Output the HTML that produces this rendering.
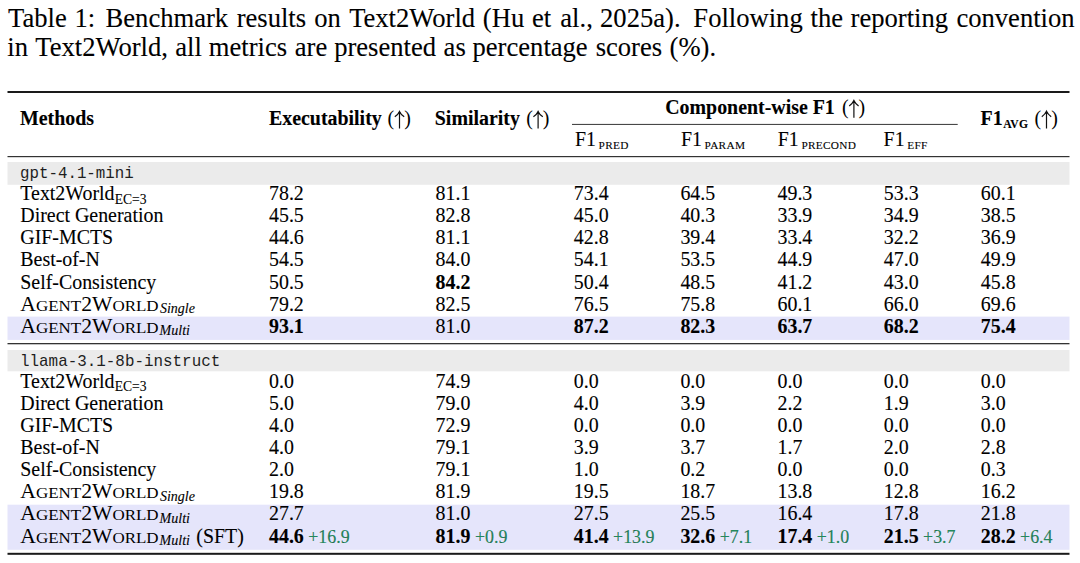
<!DOCTYPE html>
<html><head><meta charset="utf-8"><title>Table 1</title>
<style>html,body{margin:0;padding:0;background:#fff;width:1080px;height:563px;overflow:hidden} svg{font-family:"Liberation Serif", serif} text{white-space:pre}</style>
</head><body>
<svg width="1080" height="563" viewBox="0 0 1080 563" style="display:block"><text x="8.03" y="26.70" font-family="Liberation Serif" font-size="26.6" font-weight="normal" font-style="normal" fill="#000" stroke="#000" stroke-width="0.1" >Table</text>
<text x="74.57" y="26.70" font-family="Liberation Serif" font-size="26.6" font-weight="normal" font-style="normal" fill="#000" stroke="#000" stroke-width="0.1" >1:</text>
<text x="105.57" y="26.70" font-family="Liberation Serif" font-size="26.6" font-weight="normal" font-style="normal" fill="#000" stroke="#000" stroke-width="0.1" >Benchmark</text>
<text x="236.67" y="26.70" font-family="Liberation Serif" font-size="26.6" font-weight="normal" font-style="normal" fill="#000" stroke="#000" stroke-width="0.1" >results</text>
<text x="314.20" y="26.70" font-family="Liberation Serif" font-size="26.6" font-weight="normal" font-style="normal" fill="#000" stroke="#000" stroke-width="0.1" >on</text>
<text x="349.13" y="26.70" font-family="Liberation Serif" font-size="26.6" font-weight="normal" font-style="normal" fill="#000" stroke="#000" stroke-width="0.1" >Text2World</text>
<text x="482.84" y="26.70" font-family="Liberation Serif" font-size="26.6" font-weight="normal" font-style="normal" fill="#000" stroke="#000" stroke-width="0.1" >(Hu</text>
<text x="532.00" y="26.70" font-family="Liberation Serif" font-size="26.6" font-weight="normal" font-style="normal" fill="#000" stroke="#000" stroke-width="0.1" >et</text>
<text x="560.30" y="26.70" font-family="Liberation Serif" font-size="26.6" font-weight="normal" font-style="normal" fill="#000" stroke="#000" stroke-width="0.1" >al.,</text>
<text x="600.04" y="26.70" font-family="Liberation Serif" font-size="26.6" font-weight="normal" font-style="normal" fill="#000" stroke="#000" stroke-width="0.1" >2025a).</text>
<text x="693.37" y="26.70" font-family="Liberation Serif" font-size="26.6" font-weight="normal" font-style="normal" fill="#000" stroke="#000" stroke-width="0.1" >Following</text>
<text x="810.60" y="26.70" font-family="Liberation Serif" font-size="26.6" font-weight="normal" font-style="normal" fill="#000" stroke="#000" stroke-width="0.1" >the</text>
<text x="850.57" y="26.70" font-family="Liberation Serif" font-size="26.6" font-weight="normal" font-style="normal" fill="#000" stroke="#000" stroke-width="0.1" >reporting</text>
<text x="956.40" y="26.70" font-family="Liberation Serif" font-size="26.6" font-weight="normal" font-style="normal" fill="#000" stroke="#000" stroke-width="0.1" >convention</text>
<text x="7.27" y="56.20" font-family="Liberation Serif" font-size="26.6" font-weight="normal" font-style="normal" fill="#000" stroke="#000" stroke-width="0.1" >in</text>
<text x="35.33" y="56.20" font-family="Liberation Serif" font-size="26.6" font-weight="normal" font-style="normal" fill="#000" stroke="#000" stroke-width="0.1" >Text2World,</text>
<text x="175.30" y="56.20" font-family="Liberation Serif" font-size="26.6" font-weight="normal" font-style="normal" fill="#000" stroke="#000" stroke-width="0.1" >all</text>
<text x="208.87" y="56.20" font-family="Liberation Serif" font-size="26.6" font-weight="normal" font-style="normal" fill="#000" stroke="#000" stroke-width="0.1" >metrics</text>
<text x="294.80" y="56.20" font-family="Liberation Serif" font-size="26.6" font-weight="normal" font-style="normal" fill="#000" stroke="#000" stroke-width="0.1" >are</text>
<text x="334.13" y="56.20" font-family="Liberation Serif" font-size="26.6" font-weight="normal" font-style="normal" fill="#000" stroke="#000" stroke-width="0.1" >presented</text>
<text x="443.60" y="56.20" font-family="Liberation Serif" font-size="26.6" font-weight="normal" font-style="normal" fill="#000" stroke="#000" stroke-width="0.1" >as</text>
<text x="472.53" y="56.20" font-family="Liberation Serif" font-size="26.6" font-weight="normal" font-style="normal" fill="#000" stroke="#000" stroke-width="0.1" >percentage</text>
<text x="595.64" y="56.20" font-family="Liberation Serif" font-size="26.6" font-weight="normal" font-style="normal" fill="#000" stroke="#000" stroke-width="0.1" >scores</text>
<text x="669.54" y="56.20" font-family="Liberation Serif" font-size="26.6" font-weight="normal" font-style="normal" fill="#000" stroke="#000" stroke-width="0.1" >(%).</text>
<rect x="7.50" y="91.00" width="1062.00" height="2.00" fill="#1a1a1a"/>
<rect x="572.00" y="123.90" width="385.70" height="1.10" fill="#484848"/>
<rect x="7.50" y="156.00" width="1062.00" height="1.20" fill="#333"/>
<text x="20.00" y="125.10" font-family="Liberation Serif" font-size="19.9" font-weight="bold" font-style="normal" fill="#000" stroke="#000" stroke-width="0.1" >Methods</text>
<text x="269.00" y="125.00" font-family="Liberation Serif" font-size="19.9" font-weight="bold" font-style="normal" fill="#000" stroke="#000" stroke-width="0.1" >Executability</text>
<text x="387.60" y="125.00" font-family="Liberation Serif" font-size="19.9">(</text><path d="M399.50 112.40 L399.50 128.60 M394.80 116.80 Q398.20 114.40 399.50 111.40 Q400.80 114.40 404.20 116.80" stroke="#111" stroke-width="1.2" fill="none"/><path d="M398.10 113.80 L399.50 111.20 L400.90 113.80 Z" fill="#111"/><text x="404.20" y="125.00" font-family="Liberation Serif" font-size="19.9">)</text>
<text x="434.80" y="125.00" font-family="Liberation Serif" font-size="19.9" font-weight="bold" font-style="normal" fill="#000" stroke="#000" stroke-width="0.1" >Similarity</text>
<text x="526.20" y="125.00" font-family="Liberation Serif" font-size="19.9">(</text><path d="M538.10 112.40 L538.10 128.60 M533.40 116.80 Q536.80 114.40 538.10 111.40 Q539.40 114.40 542.80 116.80" stroke="#111" stroke-width="1.2" fill="none"/><path d="M536.70 113.80 L538.10 111.20 L539.50 113.80 Z" fill="#111"/><text x="542.80" y="125.00" font-family="Liberation Serif" font-size="19.9">)</text>
<text x="665.20" y="114.10" font-family="Liberation Serif" font-size="19.9" font-weight="bold" font-style="normal" fill="#000" stroke="#000" stroke-width="0.1" >Component-wise F1</text>
<text x="842.00" y="114.10" font-family="Liberation Serif" font-size="19.9">(</text><path d="M853.90 101.50 L853.90 117.70 M849.20 105.90 Q852.60 103.50 853.90 100.50 Q855.20 103.50 858.60 105.90" stroke="#111" stroke-width="1.2" fill="none"/><path d="M852.50 102.90 L853.90 100.30 L855.30 102.90 Z" fill="#111"/><text x="858.60" y="114.10" font-family="Liberation Serif" font-size="19.9">)</text>
<text x="575.00" y="145.80" font-family="Liberation Serif" font-size="19.9" font-weight="normal" font-style="normal" fill="#000" stroke="#000" stroke-width="0.1" >F1<tspan font-size="11.3" dy="2.8" dx="2.6" letter-spacing="0.3">PRED</tspan></text>
<text x="681.00" y="145.80" font-family="Liberation Serif" font-size="19.9" font-weight="normal" font-style="normal" fill="#000" stroke="#000" stroke-width="0.1" >F1<tspan font-size="11.3" dy="2.8" dx="2.6" letter-spacing="0.3">PARAM</tspan></text>
<text x="777.80" y="145.80" font-family="Liberation Serif" font-size="19.9" font-weight="normal" font-style="normal" fill="#000" stroke="#000" stroke-width="0.1" >F1<tspan font-size="11.3" dy="2.8" dx="2.6" letter-spacing="0.3">PRECOND</tspan></text>
<text x="883.60" y="145.80" font-family="Liberation Serif" font-size="19.9" font-weight="normal" font-style="normal" fill="#000" stroke="#000" stroke-width="0.1" >F1<tspan font-size="11.3" dy="2.8" dx="2.6" letter-spacing="0.3">EFF</tspan></text>
<text x="980.60" y="124.90" font-family="Liberation Serif" font-size="19.9" font-weight="bold" font-style="normal" fill="#000" stroke="#000" stroke-width="0.1" >F1<tspan font-size="11.6" dy="3.4" dx="0.6" letter-spacing="0.2">AVG</tspan></text>
<text x="1034.60" y="124.90" font-family="Liberation Serif" font-size="19.9">(</text><path d="M1046.50 112.30 L1046.50 128.50 M1041.80 116.70 Q1045.20 114.30 1046.50 111.30 Q1047.80 114.30 1051.20 116.70" stroke="#111" stroke-width="1.2" fill="none"/><path d="M1045.10 113.70 L1046.50 111.10 L1047.90 113.70 Z" fill="#111"/><text x="1051.20" y="124.90" font-family="Liberation Serif" font-size="19.9">)</text>
<rect x="7.50" y="162.00" width="1062.00" height="22.80" fill="#ebebeb"/>
<rect x="7.50" y="316.60" width="1062.00" height="23.30" fill="#e5e5fb"/>
<rect x="7.50" y="343.00" width="1062.00" height="1.30" fill="#333"/>
<rect x="7.50" y="350.00" width="1062.00" height="21.30" fill="#ebebeb"/>
<rect x="7.50" y="504.70" width="1062.00" height="45.10" fill="#e5e5fb"/>
<rect x="7.50" y="552.80" width="1062.00" height="2.00" fill="#1a1a1a"/>
<text x="20.00" y="177.60" font-family="Liberation Mono" font-size="15.8" font-weight="normal" font-style="normal" fill="#1e1e1e" stroke="#1e1e1e" stroke-width="0" >gpt-4.1-mini</text>
<text x="20.30" y="200.40" font-family="Liberation Serif" font-size="19.9" font-weight="normal" font-style="normal" fill="#000" stroke="#000" stroke-width="0.1" >Text2World<tspan font-size="13.6" dy="3.5" dx="0.2" >EC=3</tspan></text>
<text x="269.00" y="200.40" font-family="Liberation Serif" font-size="19.9" font-weight="normal" font-style="normal" fill="#000" stroke="#000" stroke-width="0.1" >78.2</text>
<text x="435.60" y="200.40" font-family="Liberation Serif" font-size="19.9" font-weight="normal" font-style="normal" fill="#000" stroke="#000" stroke-width="0.1" >81.1</text>
<text x="573.80" y="200.40" font-family="Liberation Serif" font-size="19.9" font-weight="normal" font-style="normal" fill="#000" stroke="#000" stroke-width="0.1" >73.4</text>
<text x="680.40" y="200.40" font-family="Liberation Serif" font-size="19.9" font-weight="normal" font-style="normal" fill="#000" stroke="#000" stroke-width="0.1" >64.5</text>
<text x="777.50" y="200.40" font-family="Liberation Serif" font-size="19.9" font-weight="normal" font-style="normal" fill="#000" stroke="#000" stroke-width="0.1" >49.3</text>
<text x="883.80" y="200.40" font-family="Liberation Serif" font-size="19.9" font-weight="normal" font-style="normal" fill="#000" stroke="#000" stroke-width="0.1" >53.3</text>
<text x="980.80" y="200.40" font-family="Liberation Serif" font-size="19.9" font-weight="normal" font-style="normal" fill="#000" stroke="#000" stroke-width="0.1" >60.1</text>
<text x="20.30" y="222.43" font-family="Liberation Serif" font-size="19.9" font-weight="normal" font-style="normal" fill="#000" stroke="#000" stroke-width="0.1" >Direct Generation</text>
<text x="269.00" y="222.43" font-family="Liberation Serif" font-size="19.9" font-weight="normal" font-style="normal" fill="#000" stroke="#000" stroke-width="0.1" >45.5</text>
<text x="435.60" y="222.43" font-family="Liberation Serif" font-size="19.9" font-weight="normal" font-style="normal" fill="#000" stroke="#000" stroke-width="0.1" >82.8</text>
<text x="573.80" y="222.43" font-family="Liberation Serif" font-size="19.9" font-weight="normal" font-style="normal" fill="#000" stroke="#000" stroke-width="0.1" >45.0</text>
<text x="680.40" y="222.43" font-family="Liberation Serif" font-size="19.9" font-weight="normal" font-style="normal" fill="#000" stroke="#000" stroke-width="0.1" >40.3</text>
<text x="777.50" y="222.43" font-family="Liberation Serif" font-size="19.9" font-weight="normal" font-style="normal" fill="#000" stroke="#000" stroke-width="0.1" >33.9</text>
<text x="883.80" y="222.43" font-family="Liberation Serif" font-size="19.9" font-weight="normal" font-style="normal" fill="#000" stroke="#000" stroke-width="0.1" >34.9</text>
<text x="980.80" y="222.43" font-family="Liberation Serif" font-size="19.9" font-weight="normal" font-style="normal" fill="#000" stroke="#000" stroke-width="0.1" >38.5</text>
<text x="20.30" y="244.46" font-family="Liberation Serif" font-size="19.9" font-weight="normal" font-style="normal" fill="#000" stroke="#000" stroke-width="0.1" >GIF-MCTS</text>
<text x="269.00" y="244.46" font-family="Liberation Serif" font-size="19.9" font-weight="normal" font-style="normal" fill="#000" stroke="#000" stroke-width="0.1" >44.6</text>
<text x="435.60" y="244.46" font-family="Liberation Serif" font-size="19.9" font-weight="normal" font-style="normal" fill="#000" stroke="#000" stroke-width="0.1" >81.1</text>
<text x="573.80" y="244.46" font-family="Liberation Serif" font-size="19.9" font-weight="normal" font-style="normal" fill="#000" stroke="#000" stroke-width="0.1" >42.8</text>
<text x="680.40" y="244.46" font-family="Liberation Serif" font-size="19.9" font-weight="normal" font-style="normal" fill="#000" stroke="#000" stroke-width="0.1" >39.4</text>
<text x="777.50" y="244.46" font-family="Liberation Serif" font-size="19.9" font-weight="normal" font-style="normal" fill="#000" stroke="#000" stroke-width="0.1" >33.4</text>
<text x="883.80" y="244.46" font-family="Liberation Serif" font-size="19.9" font-weight="normal" font-style="normal" fill="#000" stroke="#000" stroke-width="0.1" >32.2</text>
<text x="980.80" y="244.46" font-family="Liberation Serif" font-size="19.9" font-weight="normal" font-style="normal" fill="#000" stroke="#000" stroke-width="0.1" >36.9</text>
<text x="20.30" y="266.49" font-family="Liberation Serif" font-size="19.9" font-weight="normal" font-style="normal" fill="#000" stroke="#000" stroke-width="0.1" >Best-of-N</text>
<text x="269.00" y="266.49" font-family="Liberation Serif" font-size="19.9" font-weight="normal" font-style="normal" fill="#000" stroke="#000" stroke-width="0.1" >54.5</text>
<text x="435.60" y="266.49" font-family="Liberation Serif" font-size="19.9" font-weight="normal" font-style="normal" fill="#000" stroke="#000" stroke-width="0.1" >84.0</text>
<text x="573.80" y="266.49" font-family="Liberation Serif" font-size="19.9" font-weight="normal" font-style="normal" fill="#000" stroke="#000" stroke-width="0.1" >54.1</text>
<text x="680.40" y="266.49" font-family="Liberation Serif" font-size="19.9" font-weight="normal" font-style="normal" fill="#000" stroke="#000" stroke-width="0.1" >53.5</text>
<text x="777.50" y="266.49" font-family="Liberation Serif" font-size="19.9" font-weight="normal" font-style="normal" fill="#000" stroke="#000" stroke-width="0.1" >44.9</text>
<text x="883.80" y="266.49" font-family="Liberation Serif" font-size="19.9" font-weight="normal" font-style="normal" fill="#000" stroke="#000" stroke-width="0.1" >47.0</text>
<text x="980.80" y="266.49" font-family="Liberation Serif" font-size="19.9" font-weight="normal" font-style="normal" fill="#000" stroke="#000" stroke-width="0.1" >49.9</text>
<text x="20.30" y="288.52" font-family="Liberation Serif" font-size="19.9" font-weight="normal" font-style="normal" fill="#000" stroke="#000" stroke-width="0.1" >Self-Consistency</text>
<text x="269.00" y="288.52" font-family="Liberation Serif" font-size="19.9" font-weight="normal" font-style="normal" fill="#000" stroke="#000" stroke-width="0.1" >50.5</text>
<text x="435.60" y="288.52" font-family="Liberation Serif" font-size="19.9" font-weight="bold" font-style="normal" fill="#000" stroke="#000" stroke-width="0.1" >84.2</text>
<text x="573.80" y="288.52" font-family="Liberation Serif" font-size="19.9" font-weight="normal" font-style="normal" fill="#000" stroke="#000" stroke-width="0.1" >50.4</text>
<text x="680.40" y="288.52" font-family="Liberation Serif" font-size="19.9" font-weight="normal" font-style="normal" fill="#000" stroke="#000" stroke-width="0.1" >48.5</text>
<text x="777.50" y="288.52" font-family="Liberation Serif" font-size="19.9" font-weight="normal" font-style="normal" fill="#000" stroke="#000" stroke-width="0.1" >41.2</text>
<text x="883.80" y="288.52" font-family="Liberation Serif" font-size="19.9" font-weight="normal" font-style="normal" fill="#000" stroke="#000" stroke-width="0.1" >43.0</text>
<text x="980.80" y="288.52" font-family="Liberation Serif" font-size="19.9" font-weight="normal" font-style="normal" fill="#000" stroke="#000" stroke-width="0.1" >45.8</text>
<text x="20.3" y="310.55" font-family="Liberation Serif" font-size="19.9" textLength="138.3" lengthAdjust="spacingAndGlyphs">A<tspan font-size="15.6" >GENT</tspan><tspan  >2W</tspan><tspan font-size="15.6" >ORLD</tspan></text>
<text x="159.90" y="313.45" font-family="Liberation Serif" font-size="14.0" font-weight="normal" font-style="italic" fill="#000" stroke="#000" stroke-width="0.1" >Single</text>
<text x="269.00" y="310.55" font-family="Liberation Serif" font-size="19.9" font-weight="normal" font-style="normal" fill="#000" stroke="#000" stroke-width="0.1" >79.2</text>
<text x="435.60" y="310.55" font-family="Liberation Serif" font-size="19.9" font-weight="normal" font-style="normal" fill="#000" stroke="#000" stroke-width="0.1" >82.5</text>
<text x="573.80" y="310.55" font-family="Liberation Serif" font-size="19.9" font-weight="normal" font-style="normal" fill="#000" stroke="#000" stroke-width="0.1" >76.5</text>
<text x="680.40" y="310.55" font-family="Liberation Serif" font-size="19.9" font-weight="normal" font-style="normal" fill="#000" stroke="#000" stroke-width="0.1" >75.8</text>
<text x="777.50" y="310.55" font-family="Liberation Serif" font-size="19.9" font-weight="normal" font-style="normal" fill="#000" stroke="#000" stroke-width="0.1" >60.1</text>
<text x="883.80" y="310.55" font-family="Liberation Serif" font-size="19.9" font-weight="normal" font-style="normal" fill="#000" stroke="#000" stroke-width="0.1" >66.0</text>
<text x="980.80" y="310.55" font-family="Liberation Serif" font-size="19.9" font-weight="normal" font-style="normal" fill="#000" stroke="#000" stroke-width="0.1" >69.6</text>
<text x="20.3" y="332.58" font-family="Liberation Serif" font-size="19.9" textLength="138.3" lengthAdjust="spacingAndGlyphs">A<tspan font-size="15.6" >GENT</tspan><tspan  >2W</tspan><tspan font-size="15.6" >ORLD</tspan></text>
<text x="159.60" y="335.48" font-family="Liberation Serif" font-size="14.0" font-weight="normal" font-style="italic" fill="#000" stroke="#000" stroke-width="0.1" >Multi</text>
<text x="269.00" y="332.58" font-family="Liberation Serif" font-size="19.9" font-weight="bold" font-style="normal" fill="#000" stroke="#000" stroke-width="0.1" >93.1</text>
<text x="435.60" y="332.58" font-family="Liberation Serif" font-size="19.9" font-weight="normal" font-style="normal" fill="#000" stroke="#000" stroke-width="0.1" >81.0</text>
<text x="573.80" y="332.58" font-family="Liberation Serif" font-size="19.9" font-weight="bold" font-style="normal" fill="#000" stroke="#000" stroke-width="0.1" >87.2</text>
<text x="680.40" y="332.58" font-family="Liberation Serif" font-size="19.9" font-weight="bold" font-style="normal" fill="#000" stroke="#000" stroke-width="0.1" >82.3</text>
<text x="777.50" y="332.58" font-family="Liberation Serif" font-size="19.9" font-weight="bold" font-style="normal" fill="#000" stroke="#000" stroke-width="0.1" >63.7</text>
<text x="883.80" y="332.58" font-family="Liberation Serif" font-size="19.9" font-weight="bold" font-style="normal" fill="#000" stroke="#000" stroke-width="0.1" >68.2</text>
<text x="980.80" y="332.58" font-family="Liberation Serif" font-size="19.9" font-weight="bold" font-style="normal" fill="#000" stroke="#000" stroke-width="0.1" >75.4</text>
<text x="20.00" y="365.50" font-family="Liberation Mono" font-size="15.9" font-weight="normal" font-style="normal" fill="#1e1e1e" stroke="#1e1e1e" stroke-width="0" >llama-3.1-8b-instruct</text>
<text x="20.30" y="387.95" font-family="Liberation Serif" font-size="19.9" font-weight="normal" font-style="normal" fill="#000" stroke="#000" stroke-width="0.1" >Text2World<tspan font-size="13.6" dy="3.5" dx="0.2" >EC=3</tspan></text>
<text x="269.00" y="387.95" font-family="Liberation Serif" font-size="19.9" font-weight="normal" font-style="normal" fill="#000" stroke="#000" stroke-width="0.1" >0.0</text>
<text x="435.60" y="387.95" font-family="Liberation Serif" font-size="19.9" font-weight="normal" font-style="normal" fill="#000" stroke="#000" stroke-width="0.1" >74.9</text>
<text x="573.80" y="387.95" font-family="Liberation Serif" font-size="19.9" font-weight="normal" font-style="normal" fill="#000" stroke="#000" stroke-width="0.1" >0.0</text>
<text x="680.40" y="387.95" font-family="Liberation Serif" font-size="19.9" font-weight="normal" font-style="normal" fill="#000" stroke="#000" stroke-width="0.1" >0.0</text>
<text x="777.50" y="387.95" font-family="Liberation Serif" font-size="19.9" font-weight="normal" font-style="normal" fill="#000" stroke="#000" stroke-width="0.1" >0.0</text>
<text x="883.80" y="387.95" font-family="Liberation Serif" font-size="19.9" font-weight="normal" font-style="normal" fill="#000" stroke="#000" stroke-width="0.1" >0.0</text>
<text x="980.80" y="387.95" font-family="Liberation Serif" font-size="19.9" font-weight="normal" font-style="normal" fill="#000" stroke="#000" stroke-width="0.1" >0.0</text>
<text x="20.30" y="410.03" font-family="Liberation Serif" font-size="19.9" font-weight="normal" font-style="normal" fill="#000" stroke="#000" stroke-width="0.1" >Direct Generation</text>
<text x="269.00" y="410.03" font-family="Liberation Serif" font-size="19.9" font-weight="normal" font-style="normal" fill="#000" stroke="#000" stroke-width="0.1" >5.0</text>
<text x="435.60" y="410.03" font-family="Liberation Serif" font-size="19.9" font-weight="normal" font-style="normal" fill="#000" stroke="#000" stroke-width="0.1" >79.0</text>
<text x="573.80" y="410.03" font-family="Liberation Serif" font-size="19.9" font-weight="normal" font-style="normal" fill="#000" stroke="#000" stroke-width="0.1" >4.0</text>
<text x="680.40" y="410.03" font-family="Liberation Serif" font-size="19.9" font-weight="normal" font-style="normal" fill="#000" stroke="#000" stroke-width="0.1" >3.9</text>
<text x="777.50" y="410.03" font-family="Liberation Serif" font-size="19.9" font-weight="normal" font-style="normal" fill="#000" stroke="#000" stroke-width="0.1" >2.2</text>
<text x="883.80" y="410.03" font-family="Liberation Serif" font-size="19.9" font-weight="normal" font-style="normal" fill="#000" stroke="#000" stroke-width="0.1" >1.9</text>
<text x="980.80" y="410.03" font-family="Liberation Serif" font-size="19.9" font-weight="normal" font-style="normal" fill="#000" stroke="#000" stroke-width="0.1" >3.0</text>
<text x="20.30" y="432.11" font-family="Liberation Serif" font-size="19.9" font-weight="normal" font-style="normal" fill="#000" stroke="#000" stroke-width="0.1" >GIF-MCTS</text>
<text x="269.00" y="432.11" font-family="Liberation Serif" font-size="19.9" font-weight="normal" font-style="normal" fill="#000" stroke="#000" stroke-width="0.1" >4.0</text>
<text x="435.60" y="432.11" font-family="Liberation Serif" font-size="19.9" font-weight="normal" font-style="normal" fill="#000" stroke="#000" stroke-width="0.1" >72.9</text>
<text x="573.80" y="432.11" font-family="Liberation Serif" font-size="19.9" font-weight="normal" font-style="normal" fill="#000" stroke="#000" stroke-width="0.1" >0.0</text>
<text x="680.40" y="432.11" font-family="Liberation Serif" font-size="19.9" font-weight="normal" font-style="normal" fill="#000" stroke="#000" stroke-width="0.1" >0.0</text>
<text x="777.50" y="432.11" font-family="Liberation Serif" font-size="19.9" font-weight="normal" font-style="normal" fill="#000" stroke="#000" stroke-width="0.1" >0.0</text>
<text x="883.80" y="432.11" font-family="Liberation Serif" font-size="19.9" font-weight="normal" font-style="normal" fill="#000" stroke="#000" stroke-width="0.1" >0.0</text>
<text x="980.80" y="432.11" font-family="Liberation Serif" font-size="19.9" font-weight="normal" font-style="normal" fill="#000" stroke="#000" stroke-width="0.1" >0.0</text>
<text x="20.30" y="454.19" font-family="Liberation Serif" font-size="19.9" font-weight="normal" font-style="normal" fill="#000" stroke="#000" stroke-width="0.1" >Best-of-N</text>
<text x="269.00" y="454.19" font-family="Liberation Serif" font-size="19.9" font-weight="normal" font-style="normal" fill="#000" stroke="#000" stroke-width="0.1" >4.0</text>
<text x="435.60" y="454.19" font-family="Liberation Serif" font-size="19.9" font-weight="normal" font-style="normal" fill="#000" stroke="#000" stroke-width="0.1" >79.1</text>
<text x="573.80" y="454.19" font-family="Liberation Serif" font-size="19.9" font-weight="normal" font-style="normal" fill="#000" stroke="#000" stroke-width="0.1" >3.9</text>
<text x="680.40" y="454.19" font-family="Liberation Serif" font-size="19.9" font-weight="normal" font-style="normal" fill="#000" stroke="#000" stroke-width="0.1" >3.7</text>
<text x="777.50" y="454.19" font-family="Liberation Serif" font-size="19.9" font-weight="normal" font-style="normal" fill="#000" stroke="#000" stroke-width="0.1" >1.7</text>
<text x="883.80" y="454.19" font-family="Liberation Serif" font-size="19.9" font-weight="normal" font-style="normal" fill="#000" stroke="#000" stroke-width="0.1" >2.0</text>
<text x="980.80" y="454.19" font-family="Liberation Serif" font-size="19.9" font-weight="normal" font-style="normal" fill="#000" stroke="#000" stroke-width="0.1" >2.8</text>
<text x="20.30" y="476.27" font-family="Liberation Serif" font-size="19.9" font-weight="normal" font-style="normal" fill="#000" stroke="#000" stroke-width="0.1" >Self-Consistency</text>
<text x="269.00" y="476.27" font-family="Liberation Serif" font-size="19.9" font-weight="normal" font-style="normal" fill="#000" stroke="#000" stroke-width="0.1" >2.0</text>
<text x="435.60" y="476.27" font-family="Liberation Serif" font-size="19.9" font-weight="normal" font-style="normal" fill="#000" stroke="#000" stroke-width="0.1" >79.1</text>
<text x="573.80" y="476.27" font-family="Liberation Serif" font-size="19.9" font-weight="normal" font-style="normal" fill="#000" stroke="#000" stroke-width="0.1" >1.0</text>
<text x="680.40" y="476.27" font-family="Liberation Serif" font-size="19.9" font-weight="normal" font-style="normal" fill="#000" stroke="#000" stroke-width="0.1" >0.2</text>
<text x="777.50" y="476.27" font-family="Liberation Serif" font-size="19.9" font-weight="normal" font-style="normal" fill="#000" stroke="#000" stroke-width="0.1" >0.0</text>
<text x="883.80" y="476.27" font-family="Liberation Serif" font-size="19.9" font-weight="normal" font-style="normal" fill="#000" stroke="#000" stroke-width="0.1" >0.0</text>
<text x="980.80" y="476.27" font-family="Liberation Serif" font-size="19.9" font-weight="normal" font-style="normal" fill="#000" stroke="#000" stroke-width="0.1" >0.3</text>
<text x="20.3" y="498.35" font-family="Liberation Serif" font-size="19.9" textLength="138.3" lengthAdjust="spacingAndGlyphs">A<tspan font-size="15.6" >GENT</tspan><tspan  >2W</tspan><tspan font-size="15.6" >ORLD</tspan></text>
<text x="159.90" y="501.25" font-family="Liberation Serif" font-size="14.0" font-weight="normal" font-style="italic" fill="#000" stroke="#000" stroke-width="0.1" >Single</text>
<text x="269.00" y="498.35" font-family="Liberation Serif" font-size="19.9" font-weight="normal" font-style="normal" fill="#000" stroke="#000" stroke-width="0.1" >19.8</text>
<text x="435.60" y="498.35" font-family="Liberation Serif" font-size="19.9" font-weight="normal" font-style="normal" fill="#000" stroke="#000" stroke-width="0.1" >81.9</text>
<text x="573.80" y="498.35" font-family="Liberation Serif" font-size="19.9" font-weight="normal" font-style="normal" fill="#000" stroke="#000" stroke-width="0.1" >19.5</text>
<text x="680.40" y="498.35" font-family="Liberation Serif" font-size="19.9" font-weight="normal" font-style="normal" fill="#000" stroke="#000" stroke-width="0.1" >18.7</text>
<text x="777.50" y="498.35" font-family="Liberation Serif" font-size="19.9" font-weight="normal" font-style="normal" fill="#000" stroke="#000" stroke-width="0.1" >13.8</text>
<text x="883.80" y="498.35" font-family="Liberation Serif" font-size="19.9" font-weight="normal" font-style="normal" fill="#000" stroke="#000" stroke-width="0.1" >12.8</text>
<text x="980.80" y="498.35" font-family="Liberation Serif" font-size="19.9" font-weight="normal" font-style="normal" fill="#000" stroke="#000" stroke-width="0.1" >16.2</text>
<text x="20.3" y="520.43" font-family="Liberation Serif" font-size="19.9" textLength="138.3" lengthAdjust="spacingAndGlyphs">A<tspan font-size="15.6" >GENT</tspan><tspan  >2W</tspan><tspan font-size="15.6" >ORLD</tspan></text>
<text x="159.60" y="523.33" font-family="Liberation Serif" font-size="14.0" font-weight="normal" font-style="italic" fill="#000" stroke="#000" stroke-width="0.1" >Multi</text>
<text x="269.00" y="520.43" font-family="Liberation Serif" font-size="19.9" font-weight="normal" font-style="normal" fill="#000" stroke="#000" stroke-width="0.1" >27.7</text>
<text x="435.60" y="520.43" font-family="Liberation Serif" font-size="19.9" font-weight="normal" font-style="normal" fill="#000" stroke="#000" stroke-width="0.1" >81.0</text>
<text x="573.80" y="520.43" font-family="Liberation Serif" font-size="19.9" font-weight="normal" font-style="normal" fill="#000" stroke="#000" stroke-width="0.1" >27.5</text>
<text x="680.40" y="520.43" font-family="Liberation Serif" font-size="19.9" font-weight="normal" font-style="normal" fill="#000" stroke="#000" stroke-width="0.1" >25.5</text>
<text x="777.50" y="520.43" font-family="Liberation Serif" font-size="19.9" font-weight="normal" font-style="normal" fill="#000" stroke="#000" stroke-width="0.1" >16.4</text>
<text x="883.80" y="520.43" font-family="Liberation Serif" font-size="19.9" font-weight="normal" font-style="normal" fill="#000" stroke="#000" stroke-width="0.1" >17.8</text>
<text x="980.80" y="520.43" font-family="Liberation Serif" font-size="19.9" font-weight="normal" font-style="normal" fill="#000" stroke="#000" stroke-width="0.1" >21.8</text>
<text x="20.3" y="542.51" font-family="Liberation Serif" font-size="19.9" textLength="138.3" lengthAdjust="spacingAndGlyphs">A<tspan font-size="15.6" >GENT</tspan><tspan  >2W</tspan><tspan font-size="15.6" >ORLD</tspan></text>
<text x="159.60" y="545.41" font-family="Liberation Serif" font-size="14.0" font-weight="normal" font-style="italic" fill="#000" stroke="#000" stroke-width="0.1" >Multi</text>
<text x="196.30" y="542.51" font-family="Liberation Serif" font-size="19.9" font-weight="normal" font-style="normal" fill="#000" stroke="#000" stroke-width="0.1" >(SFT)</text>
<text x="269.00" y="542.51" font-family="Liberation Serif" font-size="19.9" font-weight="normal" font-style="normal" fill="#000" stroke="#000" stroke-width="0.1" ><tspan font-weight="bold" >44.6</tspan><tspan font-size="17.9" fill="#23895c" > +16.9</tspan></text>
<text x="435.60" y="542.51" font-family="Liberation Serif" font-size="19.9" font-weight="normal" font-style="normal" fill="#000" stroke="#000" stroke-width="0.1" ><tspan font-weight="bold" >81.9</tspan><tspan font-size="17.9" fill="#23895c" > +0.9</tspan></text>
<text x="573.80" y="542.51" font-family="Liberation Serif" font-size="19.9" font-weight="normal" font-style="normal" fill="#000" stroke="#000" stroke-width="0.1" ><tspan font-weight="bold" >41.4</tspan><tspan font-size="17.9" fill="#23895c" > +13.9</tspan></text>
<text x="680.40" y="542.51" font-family="Liberation Serif" font-size="19.9" font-weight="normal" font-style="normal" fill="#000" stroke="#000" stroke-width="0.1" ><tspan font-weight="bold" >32.6</tspan><tspan font-size="17.9" fill="#23895c" > +7.1</tspan></text>
<text x="777.50" y="542.51" font-family="Liberation Serif" font-size="19.9" font-weight="normal" font-style="normal" fill="#000" stroke="#000" stroke-width="0.1" ><tspan font-weight="bold" >17.4</tspan><tspan font-size="17.9" fill="#23895c" > +1.0</tspan></text>
<text x="883.80" y="542.51" font-family="Liberation Serif" font-size="19.9" font-weight="normal" font-style="normal" fill="#000" stroke="#000" stroke-width="0.1" ><tspan font-weight="bold" >21.5</tspan><tspan font-size="17.9" fill="#23895c" > +3.7</tspan></text>
<text x="980.80" y="542.51" font-family="Liberation Serif" font-size="19.9" font-weight="normal" font-style="normal" fill="#000" stroke="#000" stroke-width="0.1" ><tspan font-weight="bold" >28.2</tspan><tspan font-size="17.9" fill="#23895c" > +6.4</tspan></text></svg>
</body></html>
